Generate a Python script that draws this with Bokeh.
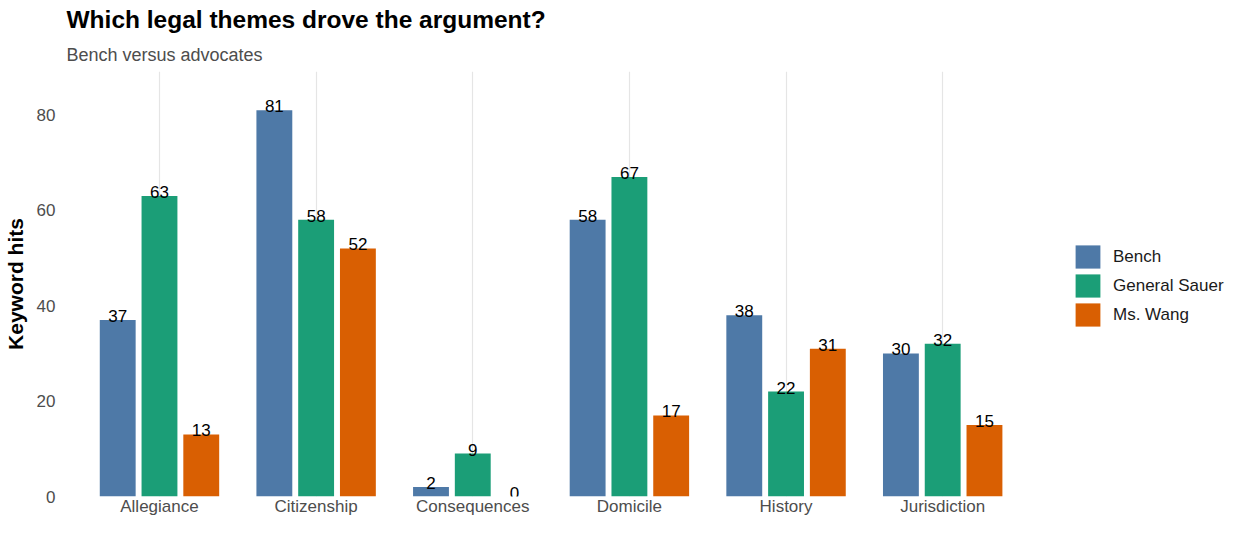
from bokeh.plotting import figure
from bokeh.models import ColumnDataSource, Range1d, FixedTicker, Legend, LegendItem, Title
from bokeh.transform import dodge
from bokeh.core.properties import value
from bokeh.embed import file_html
from bokeh.resources import INLINE

themes = ["Allegiance", "Citizenship", "Consequences", "Domicile", "History", "Jurisdiction"]
speakers = ["Bench", "General Sauer", "Ms. Wang"]
bench = [37, 81, 2, 58, 38, 30]
sauer = [63, 58, 9, 67, 22, 32]
wang = [13, 52, 0, 17, 31, 15]
colors = ["#4E79A7", "#1B9E77", "#D95F02"]
y_ticks = [0, 20, 40, 60, 80]

FONT = "Liberation Sans"
pos = list(range(1, len(themes) + 1))
series = [bench, sauer, wang]

W, H = 1232, 518
BL = 58                     # approx. left border (axis panel)
panel_w = 977               # width holding the six categories
x0 = 0.4
x1 = len(themes) + 0.6
# extend the x range so the frame reaches the right edge and the legend sits inside it
x_end = x0 + (x1 - x0) * (W - BL) / panel_w

p = figure(width=W, height=H, output_backend="svg", toolbar_location=None,
           x_range=Range1d(x0, x_end), y_range=Range1d(0, max(bench + sauer + wang) * 1.1),
           min_border_left=BL, min_border_right=0, min_border_top=64, min_border_bottom=0,
           title=None)
p.outline_line_color = None
p.background_fill_color = "white"
p.border_fill_color = "white"

step = 0.8 / 3
bw = 0.229
renderers = []
for i, (name, vals, col) in enumerate(zip(speakers, series, colors)):
    off = (i - 1) * step
    src = ColumnDataSource(dict(x=pos, top=vals, lab=[str(v) for v in vals]))
    r = p.vbar(x=dodge("x", off, range=p.x_range), top="top", width=bw, source=src,
               fill_color=col, line_color=None)
    renderers.append(r)
    p.text(x=dodge("x", off, range=p.x_range), y="top", text="lab", source=src,
           text_align="center", text_baseline="alphabetic", y_offset=-4,
           text_font=value(FONT), text_font_size="17px", text_color="#000000")

# axes
p.xaxis.ticker = FixedTicker(ticks=pos)
p.xaxis.major_label_overrides = {k: v for k, v in zip(pos, themes)}
p.yaxis.ticker = FixedTicker(ticks=y_ticks)
for ax in (p.xaxis[0], p.yaxis[0]):
    ax.axis_line_color = None
    ax.major_tick_line_color = None
    ax.minor_tick_line_color = None
    ax.major_tick_out = 0
    ax.major_tick_in = 0
    ax.minor_tick_out = 0
    ax.minor_tick_in = 0
    ax.major_label_text_font = FONT
    ax.major_label_text_font_size = "17px"
    ax.major_label_text_color = "#4D4D4D"
p.xaxis.major_label_standoff = 0
p.xaxis.axis_label_standoff = 0
p.yaxis.major_label_standoff = 10
p.yaxis.axis_label = "Keyword hits"
p.yaxis.axis_label_text_font = FONT
p.yaxis.axis_label_text_font_size = "21px"
p.yaxis.axis_label_text_font_style = "bold"
p.yaxis.axis_label_text_color = "#000000"
p.yaxis.axis_label_standoff = 7

p.ygrid.grid_line_color = None
p.xgrid.grid_line_color = "#E5E5E5"
p.xgrid.grid_line_width = 1.2

# titles
p.add_layout(Title(text="Bench versus advocates", text_font=FONT, text_font_size="18px",
                   text_font_style="normal", text_color="#4D4D4D", align="left",
                   offset=1, standoff=14), "above")
p.add_layout(Title(text="Which legal themes drove the argument?", text_font=FONT,
                   text_font_size="24.5px", text_font_style="bold", text_color="#000000",
                   align="left", offset=1, standoff=6), "above")

legend = Legend(items=[LegendItem(label=s, renderers=[r]) for s, r in zip(speakers, renderers)],
                location=(panel_w + 30, 167), orientation="vertical",
                glyph_width=31, glyph_height=29, spacing=0, label_standoff=10,
                label_text_font=FONT, label_text_font_size="17px", label_text_color="#1A1A1A",
                padding=0, margin=0, border_line_color=None, background_fill_alpha=0)
p.add_layout(legend, "center")

open("out.html", "w").write(file_html(p, INLINE))
